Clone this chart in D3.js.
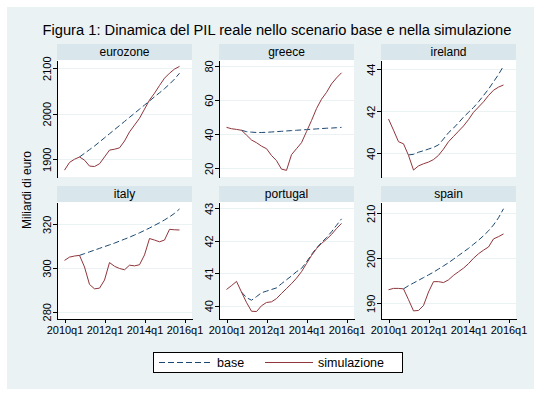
<!DOCTYPE html>
<html lang="it">
<head>
<meta charset="utf-8">
<title>Figura 1: Dinamica del PIL reale</title>
<script src="https://d3js.org/d3.v7.min.js"></script>
<style>
    body { margin: 0; background: #fff; }
    text { font-family: "Liberation Sans", Arial, sans-serif; fill: #000; }
</style>
</head>
<body>
<script>
    // quarters 2010q1 .. 2015q4 (index 0..23)
    var tickQuarters = [0, 8, 16, 24];
    var tickLabels = ["2010q1", "2012q1", "2014q1", "2016q1"];
    var countries = ["eurozone", "greece", "ireland", "italy", "portugal", "spain"];

    var eurozoneSim = [1876, 1893, 1900, 1905, 1898, 1885, 1884, 1890, 1905, 1920, 1922, 1925, 1940, 1960, 1975, 1990, 2010, 2030, 2045, 2062, 2078, 2089, 2098, 2104];
    var eurozoneBase = [null, null, null, 1905, 1913, 1921, 1929, 1938, 1947, 1956, 1965, 1974, 1983, 1992, 2001, 2010, 2019, 2028, 2037, 2046, 2055, 2065, 2076, 2089];

    var greeceSim = [44.0, 43.2, 42.8, 42.3, 39.5, 36.6, 35.0, 33.0, 31.5, 27.5, 24.5, 19.5, 18.8, 28.0, 31.5, 35.0, 41.5, 48.0, 55.0, 60.5, 64.5, 69.5, 73.0, 76.0];
    var greeceBase = [null, null, null, 42.3, 41.5, 41.2, 41.0, 41.0, 41.1, 41.3, 41.5, 41.7, 41.9, 42.1, 42.3, 42.5, 42.7, 42.9, 43.1, 43.3, 43.5, 43.6, 43.8, 44.0];

    var irelandSim = [41.63, 41.1, 40.55, 40.45, 39.9, 39.2, 39.4, 39.5, 39.58, 39.7, 39.9, 40.2, 40.55, 40.8, 41.05, 41.3, 41.6, 41.95, 42.2, 42.45, 42.75, 43.0, 43.15, 43.25];
    var irelandBase = [null, null, null, null, 39.92, 39.95, 40.05, 40.12, 40.2, 40.28, 40.4, 40.68, 40.98, 41.2, 41.45, 41.72, 41.95, 42.18, 42.45, 42.75, 43.05, 43.4, 43.75, 44.15];

    var italySim = [303.5, 305.0, 305.5, 305.8, 300.5, 292.5, 290.5, 290.8, 294.5, 302.5, 300.8, 299.8, 299.2, 301.3, 301.0, 301.5, 306.0, 313.5, 312.8, 312.0, 312.8, 317.7, 317.5, 317.4];
    var italyBase = [null, null, null, 305.8, 306.6, 307.4, 308.2, 309.0, 309.8, 310.6, 311.4, 312.3, 313.2, 314.1, 315.1, 316.1, 317.2, 318.3, 319.5, 320.7, 322.0, 323.4, 325.0, 327.0];

    var portugalSim = [40.5, 40.62, 40.75, 40.42, 40.1, 39.83, 39.82, 40.0, 40.1, 40.12, 40.22, 40.38, 40.53, 40.68, 40.85, 41.05, 41.3, 41.55, 41.76, 41.92, 42.05, 42.2, 42.38, 42.54];
    var portugalBase = [null, null, null, 40.42, 40.25, 40.17, 40.28, 40.4, 40.45, 40.5, 40.55, 40.68, 40.8, 40.92, 41.05, 41.15, 41.35, 41.58, 41.78, 41.95, 42.1, 42.28, 42.48, 42.68];

    var spainSim = [193.0, 193.3, 193.3, 193.2, 190.8, 188.3, 188.4, 189.5, 192.5, 194.8, 194.8, 194.6, 195.2, 196.2, 197.0, 197.8, 198.8, 200.0, 201.0, 201.8, 202.5, 204.3, 204.8, 205.4];
    var spainBase = [null, null, null, 193.2, 193.9, 194.5, 195.1, 195.7, 196.3, 196.9, 197.6, 198.3, 199.0, 199.8, 200.6, 201.4, 202.2, 203.1, 204.0, 205.0, 206.1, 207.4, 209.0, 211.0];

    var yTicks = [[1900, 2000, 2100], [20, 40, 60, 80], [40, 42, 44], [280, 300, 320], [40, 41, 42, 43], [190, 200, 210]];
    var yDomains = [[1861, 2118], [14.9, 83.5], [38.87, 44.44], [276.7, 330.2], [39.59, 43.2], [186.5, 212.5]];

    var simSeries = [eurozoneSim, greeceSim, irelandSim, italySim, portugalSim, spainSim];
    var baseSeries = [eurozoneBase, greeceBase, irelandBase, italyBase, portugalBase, spainBase];

    var w = 541, h = 397;
    var colX = [57, 219, 381], pw = 135;
    var rowTop = [44, 186], headH = 16, ph = 117;

    var navy = "#1a476f", maroon = "#90353b";

    var svg = d3.select("body").append("svg")
        .attr("width", w)
        .attr("height", h);

    // graph region
    svg.append("rect")
        .attr("x", 7).attr("y", 7)
        .attr("width", 527).attr("height", 382)
        .attr("fill", "#eaf2f3");

    svg.append("text")
        .attr("x", 277).attr("y", 35)
        .attr("text-anchor", "middle")
        .style("font-size", "14.7px")
        .text("Figura 1: Dinamica del PIL reale nello scenario base e nella simulazione");

    svg.append("text")
        .attr("transform", "translate(31,190) rotate(-90)")
        .attr("text-anchor", "middle")
        .style("font-size", "12px")
        .text("Miliardi di euro");

    countries.forEach(function (name, i) {
        var col = i % 3, row = Math.floor(i / 3);
        var x0 = colX[col], top = rowTop[row] + headH, bottom = top + ph;

        var x = d3.scaleLinear().domain([-1.5, 25.5]).range([x0, x0 + pw]);
        var y = d3.scaleLinear().domain(yDomains[i]).range([bottom, top]);

        var g = svg.append("g");

        // header strip
        g.append("rect")
            .attr("x", x0).attr("y", rowTop[row])
            .attr("width", pw).attr("height", headH)
            .attr("fill", "#d9e6eb");
        g.append("text")
            .attr("x", x0 + pw / 2).attr("y", rowTop[row] + 12)
            .attr("text-anchor", "middle")
            .style("font-size", "12px")
            .text(name);

        // plot area
        g.append("rect")
            .attr("x", x0).attr("y", top)
            .attr("width", pw).attr("height", ph)
            .attr("fill", "#fff");

        g.selectAll(".grid")
            .data(yTicks[i])
            .enter().append("line")
            .attr("x1", x0).attr("x2", x0 + pw)
            .attr("y1", function (d) { return Math.round(y(d)) + 0.5; })
            .attr("y2", function (d) { return Math.round(y(d)) + 0.5; })
            .attr("stroke", "#eaf2f3")
            .attr("stroke-width", 1);

        var line = d3.line()
            .defined(function (d) { return d != null; })
            .x(function (d, k) { return x(k); })
            .y(function (d) { return y(d); });

        g.append("path")
            .datum(baseSeries[i])
            .attr("d", line)
            .attr("fill", "none")
            .attr("stroke", navy)
            .attr("stroke-width", 1)
            .attr("stroke-dasharray", "6,3");

        g.append("path")
            .datum(simSeries[i])
            .attr("d", line)
            .attr("fill", "none")
            .attr("stroke", maroon)
            .attr("stroke-width", 1);

        // y axis
        var ya = g.append("g")
            .attr("transform", "translate(" + x0 + ",0)")
            .call(d3.axisLeft(y).tickValues(yTicks[i]).tickFormat(d3.format("d"))
                .tickSize(4).tickSizeOuter(0));
        ya.selectAll("text")
            .attr("transform", "rotate(-90)")
            .attr("x", 0).attr("y", -6).attr("dy", 0)
            .style("text-anchor", "middle")
            .style("font-size", "11px")
            .style("font-family", "'Liberation Sans', Arial, sans-serif");

        // x axis on bottom row only
        if (row === 1) {
            var xa = g.append("g")
                .attr("transform", "translate(0," + bottom + ")")
                .call(d3.axisBottom(x).tickValues(tickQuarters)
                    .tickFormat(function (d, k) { return tickLabels[k]; })
                    .tickSize(4).tickSizeOuter(0));
            xa.selectAll("text")
                .style("font-size", "11px")
                .style("font-family", "'Liberation Sans', Arial, sans-serif");
        }
    });

    svg.selectAll(".domain, .tick line").attr("stroke", "#000").attr("shape-rendering", "crispEdges");

    // legend
    var leg = svg.append("g");
    leg.append("rect")
        .attr("x", 153.5).attr("y", 352.5)
        .attr("width", 249).attr("height", 20)
        .attr("fill", "#fff").attr("stroke", "#000");
    leg.append("line")
        .attr("x1", 159).attr("x2", 211).attr("y1", 362.5).attr("y2", 362.5)
        .attr("stroke", navy).attr("stroke-dasharray", "6,3");
    leg.append("text").attr("x", 217).attr("y", 367).style("font-size", "12.5px").text("base");
    leg.append("line")
        .attr("x1", 265).attr("x2", 313).attr("y1", 362.5).attr("y2", 362.5)
        .attr("stroke", maroon);
    leg.append("text").attr("x", 318).attr("y", 367).style("font-size", "12.5px").text("simulazione");
</script>
</body>
</html>
